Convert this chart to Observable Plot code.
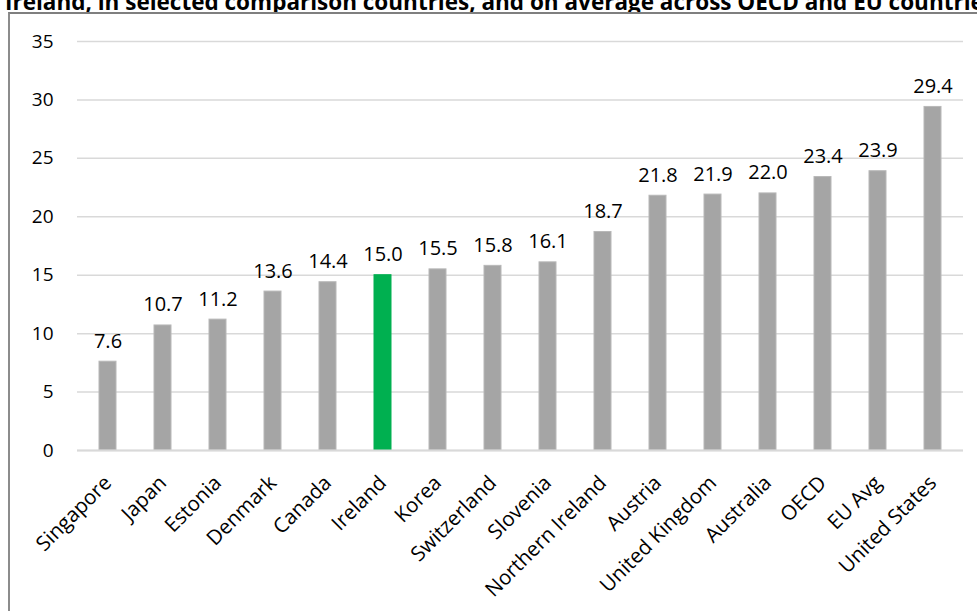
<!DOCTYPE html>
<html>
<head>
<meta charset="utf-8">
<script src="https://cdn.jsdelivr.net/npm/d3@7"></script>
<script src="https://cdn.jsdelivr.net/npm/@observablehq/plot@0.6"></script>
<style>
  html, body { margin: 0; padding: 0; background: #fff; overflow: hidden; }
  #wrap { position: relative; width: 977px; height: 611px; overflow: hidden; }
  #title { position: absolute; left: 5px; top: -14px; white-space: nowrap; z-index: 1;
    font-family: "Open Sans", sans-serif; font-weight: bold; font-size: 22.5px; color: #000; }
  #frame { position: absolute; left: 8px; top: 12px; width: 1200px; height: 800px; z-index: 2;
    background: #fff; border-left: 2px solid #8c8c8c; border-top: 2px solid #7f7f7f; }
  #chart { position: absolute; left: 0; top: 0; z-index: 3; }
</style>
</head>
<body>
<div id="wrap">
  <div id="title">Ireland, in selected comparison countries, and on average across OECD and EU countries</div>
  <div id="frame"></div>
  <div id="chart"></div>
</div>
<script>
const countries = ["Singapore", "Japan", "Estonia", "Denmark", "Canada", "Ireland", "Korea", "Switzerland", "Slovenia", "Northern Ireland", "Austria", "United Kingdom", "Australia", "OECD", "EU Avg", "United States"];
const values = [7.6, 10.7, 11.2, 13.6, 14.4, 15.0, 15.5, 15.8, 16.1, 18.7, 21.8, 21.9, 22.0, 23.4, 23.9, 29.4];
const highlight = "Ireland";
const yTicks = [0, 5, 10, 15, 20, 25, 30, 35];

const data = countries.map((c, i) => ({country: c, value: values[i]}));

const chart = Plot.plot({
  width: 977,
  height: 611,
  marginLeft: 77,
  marginRight: 14,
  marginTop: 41,
  marginBottom: 161,
  style: {fontFamily: "'Open Sans', sans-serif", fontSize: "19px", color: "#000", background: "transparent"},
  x: {domain: countries, paddingInner: 0.69, paddingOuter: 0.345, label: null},
  y: {domain: [0, 35], label: null},
  marks: [
    Plot.gridY(yTicks, {stroke: "#d9d9d9", strokeOpacity: 1, strokeWidth: 1.5}),
    Plot.axisY(yTicks, {tickSize: 0, tickPadding: 24, label: null, fontSize: 19, tickFormat: d => String(d)}),
    Plot.axisX({tickSize: 0, tickRotate: -45, tickPadding: 29, label: null, fontSize: 20.5}),
    Plot.barY(data, {x: "country", y: "value",
      fill: d => d.country === highlight ? "#00b050" : "#a5a5a5",
      stroke: d => d.country === highlight ? "#00b050" : "#b8b8b8", strokeWidth: 1}),
    Plot.ruleY([0], {stroke: "#d9d9d9", strokeWidth: 2}),
    Plot.text(data, {x: "country", y: "value", text: d => d.value.toFixed(1),
      lineAnchor: "bottom", dy: -14, fontSize: 20, fill: "#000"})
  ]
});
document.getElementById("chart").appendChild(chart);
</script>
</body>
</html>
